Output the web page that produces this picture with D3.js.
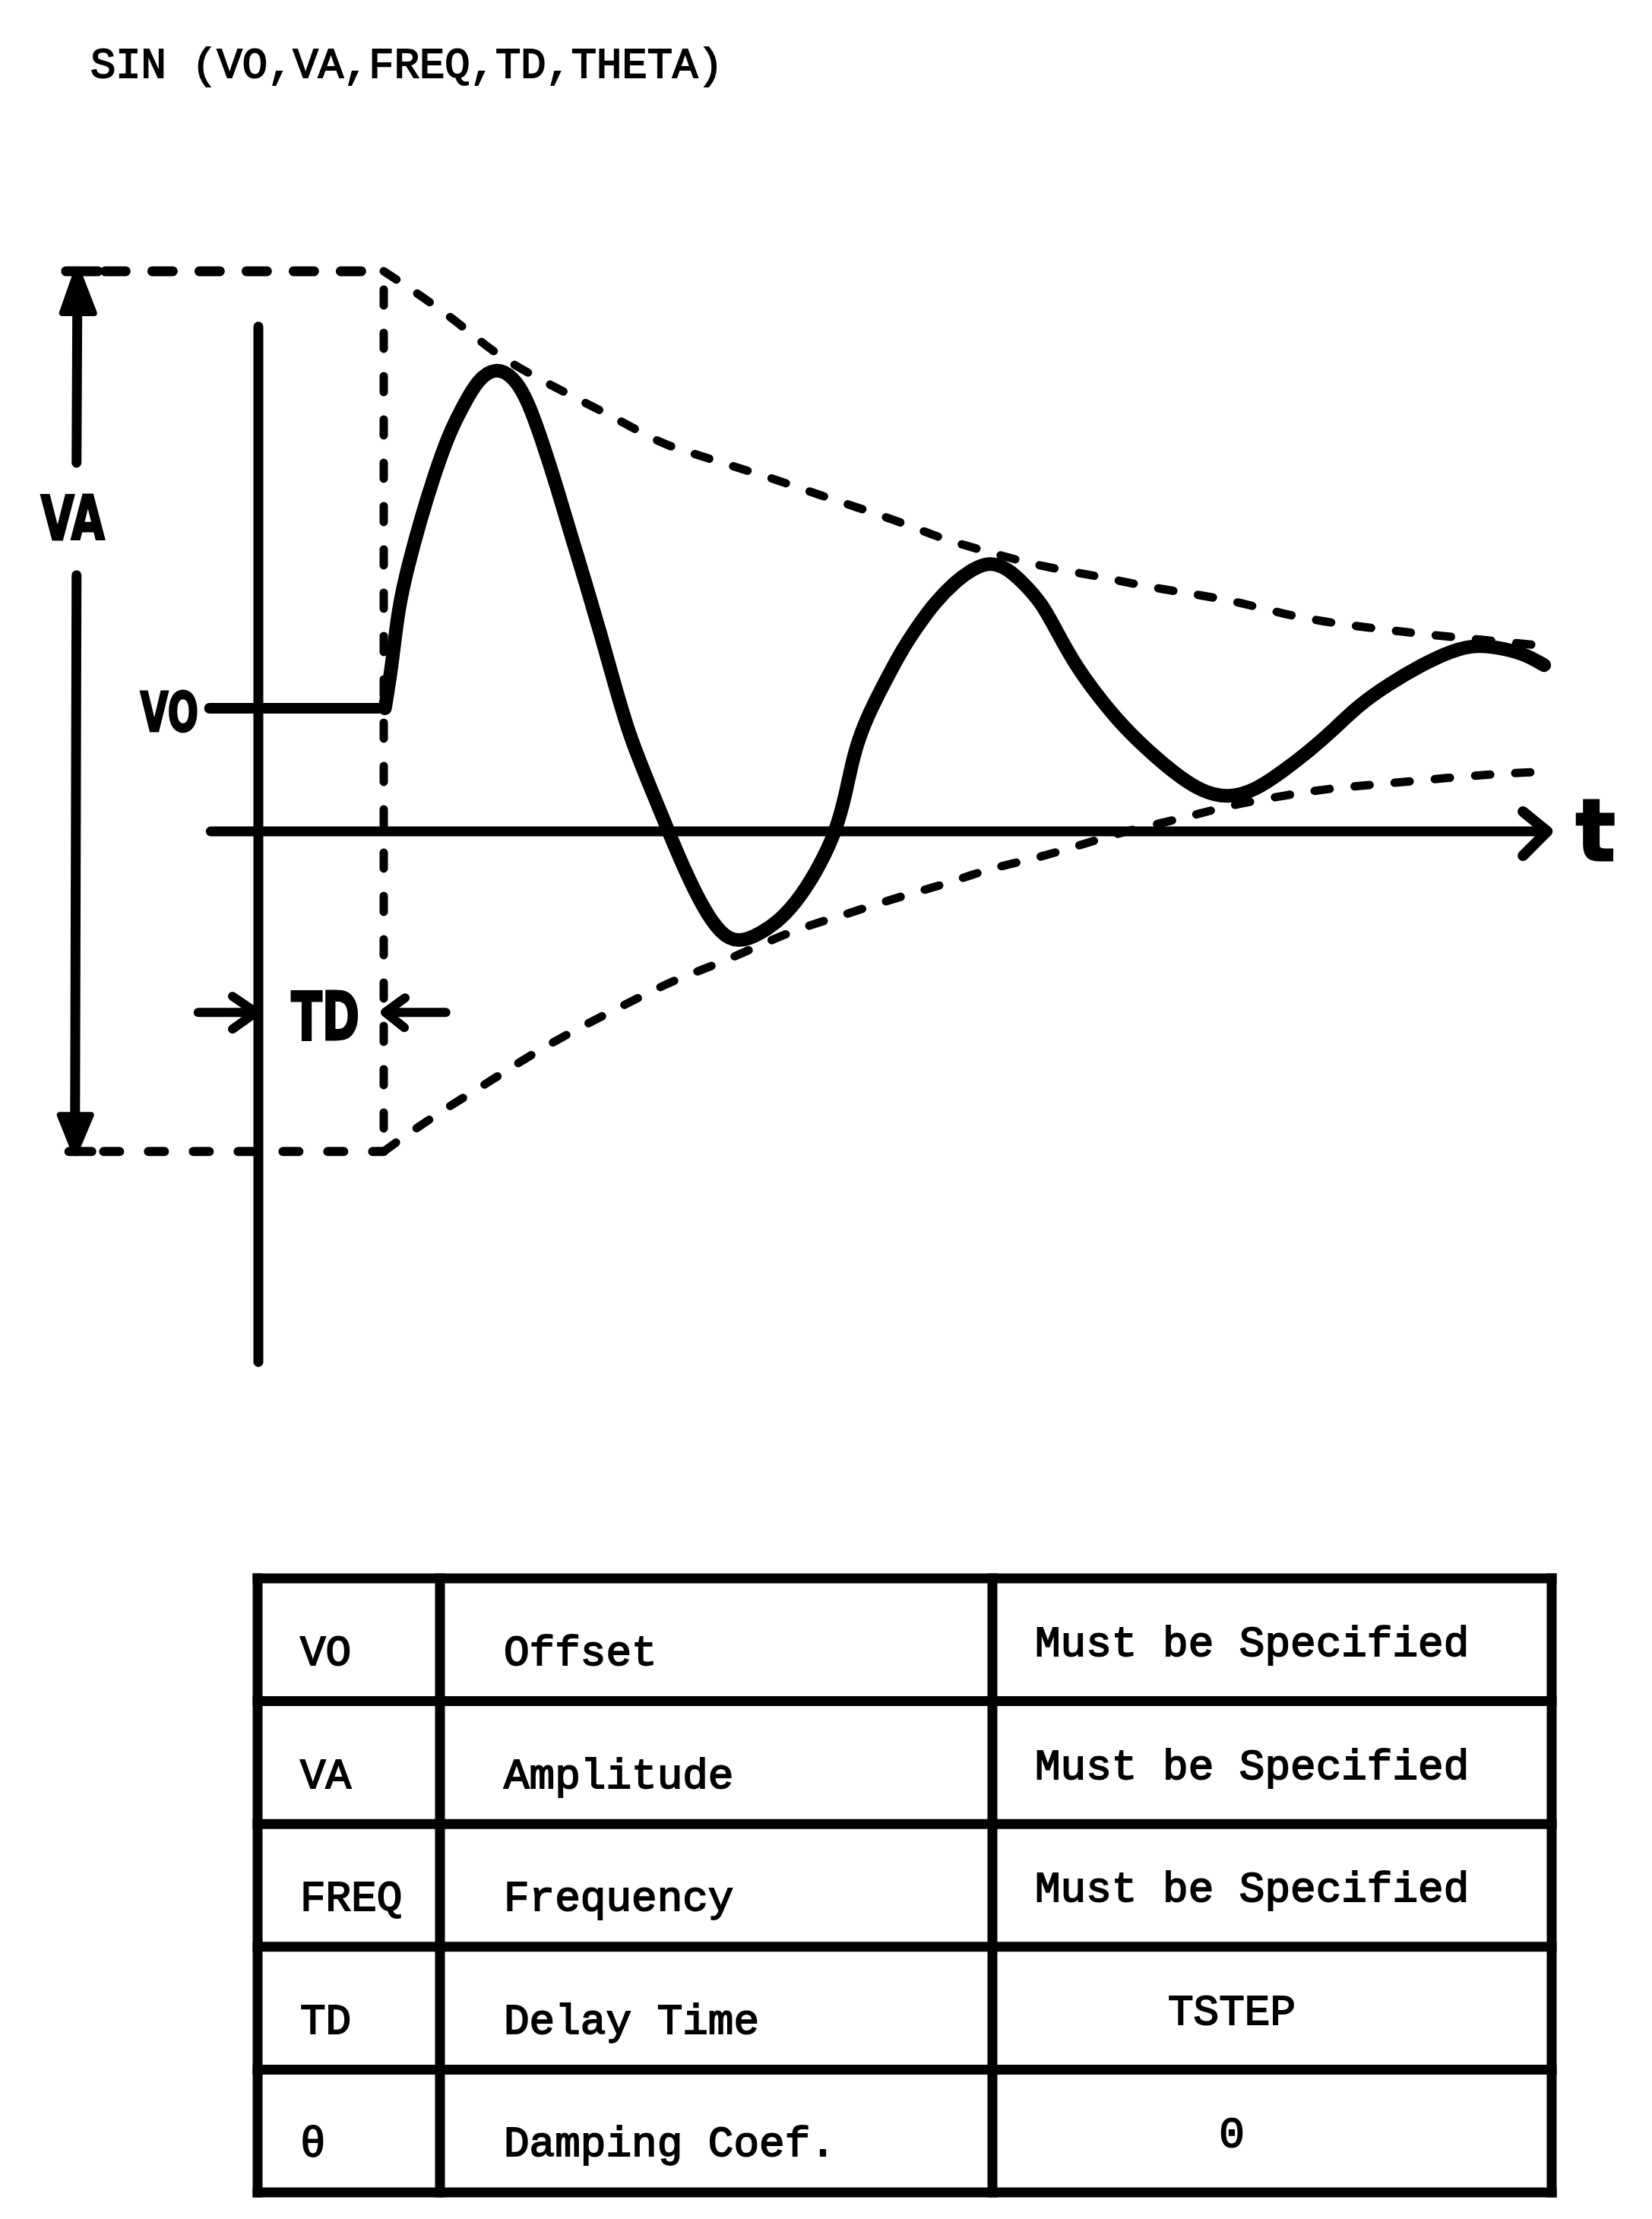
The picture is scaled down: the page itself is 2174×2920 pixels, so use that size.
<!DOCTYPE html>
<html><head><meta charset="utf-8">
<script src="https://cdn.jsdelivr.net/npm/d3@7"></script>
<style>html,body{margin:0;padding:0;background:#fff;} svg{display:block;}</style>
</head><body>
<script>
// ---------------- data ----------------
const title = "SIN (VO,VA,FREQ,TD,THETA)";
const VO = 1.0;          // offset level
const TD = 2.0;          // delay time
const vTop = 4.55;       // VO + VA
const vBottom = -2.6;    // VO - VA

// damped sine
const waveT = [2.02,2.13,2.23,2.39,2.58,2.81,3.04,3.27,3.50,3.78,4.06,4.29,4.52,4.76,4.99,5.22,5.45,5.68,5.92,6.30,6.55,6.78,7.09,7.37,7.65,8.02,8.40,8.76,9.04,9.22,9.37,9.50,9.70,9.98,10.25,10.48,10.79,11.12,11.39,11.66,11.94,12.22,12.50,12.73,13.01,13.33,13.71,14.12,14.59,15.05,15.47,15.89,16.35,16.78,17.16,17.54,18.01,18.58,19.05,19.44,19.92,20.24,20.51];
const waveV = [1.00,1.34,1.81,2.16,2.52,2.90,3.23,3.46,3.67,3.77,3.70,3.51,3.18,2.80,2.40,2.02,1.62,1.20,0.77,0.30,-0.01,-0.29,-0.62,-0.83,-0.91,-0.83,-0.69,-0.45,-0.19,0.02,0.30,0.64,0.92,1.20,1.46,1.64,1.86,2.03,2.13,2.19,2.14,2.01,1.85,1.63,1.37,1.14,0.90,0.69,0.48,0.32,0.27,0.33,0.49,0.66,0.83,1.02,1.19,1.36,1.47,1.52,1.48,1.43,1.35];

// upper and lower envelopes
const upperT = [2.00,2.63,3.27,3.82,4.57,5.18,5.83,6.42,6.93,7.54,8.19,8.84,10.28,10.87,11.71,12.50,13.43,14.15,14.88,15.59,16.38,17.16,17.94,18.63,19.44,20.44];
const upperV = [4.55,4.34,4.10,3.86,3.65,3.49,3.32,3.15,3.07,2.97,2.87,2.75,2.51,2.38,2.26,2.15,2.07,1.99,1.93,1.87,1.76,1.69,1.64,1.60,1.56,1.51];
const lowerT = [2.00,2.35,2.99,3.76,4.36,5.10,5.76,6.34,6.82,7.47,8.48,9.27,10.36,11.02,11.66,12.41,13.18,13.89,14.78,15.47,16.35,17.09,17.83,18.65,19.55,20.29];
const lowerV = [-2.60,-2.47,-2.25,-2.01,-1.81,-1.60,-1.43,-1.28,-1.17,-1.05,-0.81,-0.69,-0.51,-0.42,-0.30,-0.22,-0.10,0.01,0.11,0.21,0.29,0.35,0.38,0.42,0.46,0.48];

// table
const paramNames = ["VO","VA","FREQ","TD","θ"];
const paramDescriptions = ["Offset","Amplitude","Frequency","Delay Time","Damping Coef."];
const paramDefaults = ["Must be Specified","Must be Specified","Must be Specified","TSTEP","0"];

// ---------------- layout ----------------
const W = 2174, H = 2920;
const svg = d3.select("body").append("svg").attr("width", W).attr("height", H);
svg.append("rect").attr("width", W).attr("height", H).attr("fill", "#fff");

const x = d3.scaleLinear().domain([0, 20]).range([340, 1990]);
const y = d3.scaleLinear().domain([0, 1]).range([1094, 932]);

const tAxisStart = -0.76, tAxisEnd = 20.56;
const vAxisTop = 4.1, vAxisBottom = -4.31;
const guideStart = -3.05, vaArrowT = -2.9, voLineStart = -0.78;

const ink = "#000";
const mono = "'Liberation Mono','DejaVu Sans Mono',monospace";
const hand = "'DejaVu Sans',sans-serif";

const g = svg.append("g").attr("stroke", ink).attr("fill", "none")
  .attr("stroke-linecap", "round").attr("stroke-linejoin", "round");

const seg = (x1, y1, x2, y2) => g.append("line").attr("x1", x1).attr("y1", y1).attr("x2", x2).attr("y2", y2);
const poly = (pts) => g.append("path").attr("d", d3.line()(pts));

// title
svg.append("text").text(title)
  .attr("x", 119).attr("y", 102)
  .attr("font-family", mono).attr("font-size", 55.5)
  .attr("fill", ink).attr("stroke", ink).attr("stroke-width", 1.8);

// vertical (voltage) axis
seg(x(0), y(vAxisTop), x(0), y(vAxisBottom)).attr("stroke-width", 13);
// time axis with arrow
seg(x(tAxisStart), y(0), x(tAxisEnd), y(0)).attr("stroke-width", 13);
poly([[x(tAxisEnd) - 32, y(0) - 26], [x(tAxisEnd), y(0)], [x(tAxisEnd) - 32, y(0) + 32]]).attr("stroke-width", 14);

// VO level before delay
seg(x(voLineStart), y(VO), x(TD), y(VO)).attr("stroke-width", 14);

// dashed guides
seg(x(guideStart) + 50, y(vTop), x(TD), y(vTop)).attr("stroke-width", 13).attr("stroke-dasharray", "27 35");
seg(x(guideStart) + 48, y(vBottom), x(TD), y(vBottom)).attr("stroke-width", 12).attr("stroke-dasharray", "21 38");
seg(x(TD), y(vTop) + 24, x(TD), y(vBottom) - 8).attr("stroke-width", 11).attr("stroke-dasharray", "21 36");

// envelopes and wave
const line = d3.line().x(d => x(d[0])).y(d => y(d[1])).curve(d3.curveBasis);
g.append("path").attr("d", line(d3.zip(upperT, upperV))).attr("stroke-width", 11).attr("stroke-dasharray", "20 33");
g.append("path").attr("d", line(d3.zip(lowerT, lowerV))).attr("stroke-width", 11).attr("stroke-dasharray", "20 33");
g.append("path").attr("d", line(d3.zip(waveT, waveV))).attr("stroke-width", 18);

// VA double arrow
const vaLabelV = 2.55;
const vaX = x(vaArrowT);
seg(vaX + 1, y(vTop) + 40, vaX, y(vaLabelV) - 72).attr("stroke-width", 13);
seg(vaX, y(vaLabelV) + 76, vaX - 2, y(vBottom) - 40).attr("stroke-width", 13);
g.append("path").attr("fill", ink).attr("stroke-width", 8)
  .attr("d", d3.line()([[vaX + 1, y(vTop) - 2], [vaX - 19, y(vTop) + 55], [vaX + 23, y(vTop) + 55]]) + "Z");
g.append("path").attr("fill", ink).attr("stroke-width", 8)
  .attr("d", d3.line()([[vaX - 2, y(vBottom) + 2], [vaX - 22, y(vBottom) - 48], [vaX + 19, y(vBottom) - 48]]) + "Z");
seg(vaX - 14, y(vTop), vaX + 28, y(vTop)).attr("stroke-width", 13);
seg(vaX - 10, y(vBottom), vaX + 20, y(vBottom)).attr("stroke-width", 12);

// TD arrows
const tdV = -1.47;
seg(x(-0.96), y(tdV), x(0) - 4, y(tdV)).attr("stroke-width", 12);
poly([[x(0) - 34, y(tdV) - 21], [x(0) - 3, y(tdV)], [x(0) - 34, y(tdV) + 22]]).attr("stroke-width", 12);
seg(x(2.99), y(tdV), x(TD) + 3, y(tdV)).attr("stroke-width", 12);
poly([[x(TD) + 28, y(tdV) - 19], [x(TD) + 2, y(tdV)], [x(TD) + 27, y(tdV) + 20]]).attr("stroke-width", 12);

// hand-lettered labels
const handLabel = (txt, cx, base, size, len) => svg.append("text").text(txt)
  .attr("x", cx).attr("y", base).attr("text-anchor", "middle")
  .attr("font-family", hand).attr("font-weight", "bold").attr("font-size", size)
  .attr("textLength", len).attr("lengthAdjust", "spacingAndGlyphs")
  .attr("fill", ink).attr("stroke", ink).attr("stroke-width", 3);
handLabel("VA", x(-2.96), y(vaLabelV) + 29, 80, 84);
handLabel("VO", x(-1.42), y(VO) + 30, 72, 76);
handLabel("TD", x(1.07), y(tdV) + 36, 88, 90);
handLabel("t", x(21.33), y(0) + 38, 112, 52);

// ---------------- table ----------------
const tableTop = 2077, tableBottom = 2885;
const colEdges = [339, 579, 1306, 2042];
const rows = d3.scaleBand().domain(d3.range(paramNames.length)).range([tableTop, tableBottom]);
const tg = svg.append("g").attr("stroke", ink).attr("stroke-width", 13).attr("stroke-linecap", "square");
d3.range(paramNames.length + 1).forEach(i => {
  const yy = i < paramNames.length ? rows(i) : tableBottom;
  tg.append("line").attr("x1", colEdges[0]).attr("x2", colEdges[3]).attr("y1", yy).attr("y2", yy);
});
colEdges.forEach(cx => tg.append("line").attr("x1", cx).attr("x2", cx).attr("y1", tableTop).attr("y2", tableBottom));

const cellText = (txt, xx, yy, anchor) => svg.append("text").text(txt)
  .attr("x", xx).attr("y", yy).attr("text-anchor", anchor)
  .attr("font-family", mono).attr("font-size", 56)
  .attr("fill", ink).attr("stroke", ink).attr("stroke-width", 1.8);

paramNames.forEach((p, i) => {
  const base = rows(i) + 114;
  cellText(p, 395, base, "start");
  cellText(paramDescriptions[i], 663, base, "start");
  const d = paramDefaults[i];
  if (d.length > 8) cellText(d, 1362, base - 12, "start");
  else cellText(d, 1621, base - 12, "middle");
});
</script>
</body></html>
